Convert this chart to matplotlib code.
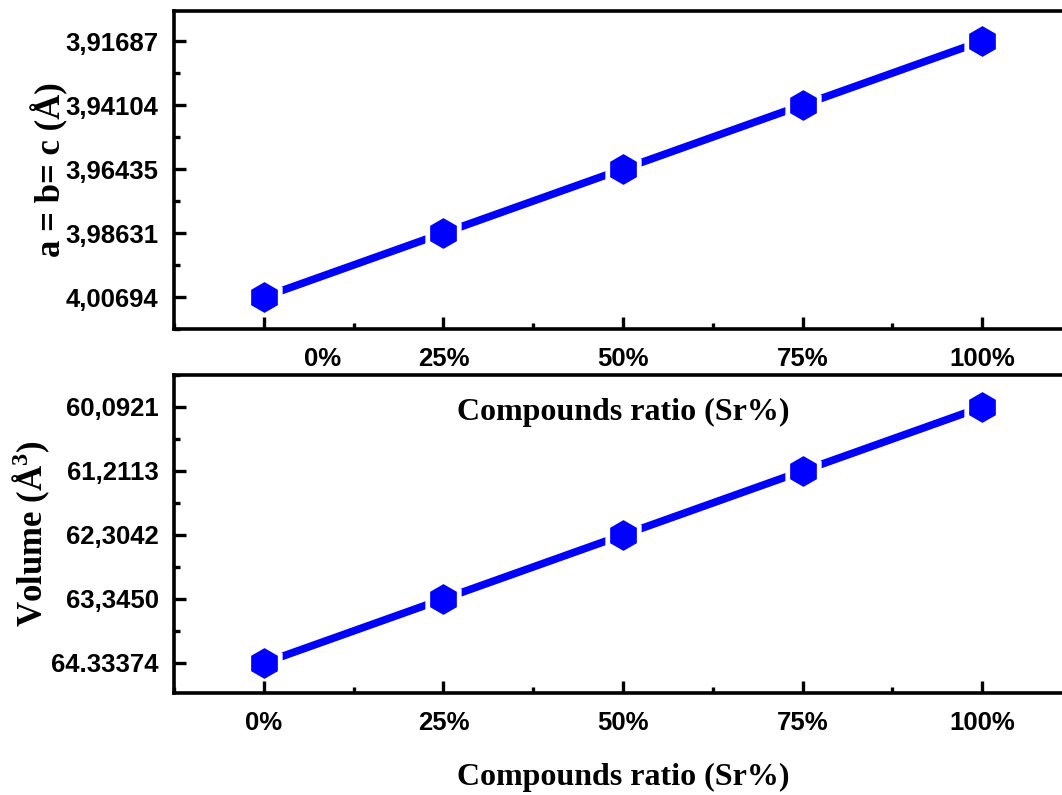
import matplotlib
matplotlib.use("Agg")
import matplotlib.pyplot as plt
from matplotlib.ticker import MultipleLocator
from matplotlib.transforms import ScaledTranslation

# ---- data ----
ratios = ['0%', '25%', '50%', '75%', '100%']
lattice = ['4,00694', '3,98631', '3,96435', '3,94104', '3,91687']
volume = ['64.33374', '63,3450', '62,3042', '61,2113', '60,0921']
xlabel = 'Compounds ratio (Sr%)'
ylabel_top = 'a = b= c (Å)'
ylabel_bot = r'Volume (Å$^{\mathbf{3}}$)'

plt.rcParams['mathtext.fontset'] = 'custom'
plt.rcParams['mathtext.rm'] = 'Liberation Serif'
plt.rcParams['mathtext.bf'] = 'Liberation Serif:bold'

W, H = 1062, 795
fig = plt.figure(figsize=(W / 100, H / 100), dpi=100)

def fx(px):
    return px / W

def fy(py):
    return 1 - py / H

left, right = 174, 1072
ax1 = fig.add_axes([fx(left), fy(329), fx(right - left), fy(11) - fy(329)])
ax2 = fig.add_axes([fx(left), fy(693), fx(right - left), fy(375) - fy(693)])
ax2.patch.set_visible(False)

tick_size = 18.5
label_font = dict(family='Liberation Serif', weight='bold', size=25)

blue = '#0000FF'
for ax, yvals, ylim in [(ax1, lattice, (-0.5, 4.47)),
                        (ax2, volume, (-0.47, 4.5))]:
    ax.plot(ratios, yvals, color=blue, lw=5.5, zorder=1, solid_capstyle='butt')
    ax.plot(ratios, yvals, ls='none', marker='h', ms=29, color='white', zorder=1.5)
    ax.plot(ratios, yvals, ls='none', marker='h', ms=21, color=blue, zorder=1.6)
    ax.set_xlim(-0.5, 4.5)
    ax.set_ylim(*ylim)
    ax.xaxis.set_minor_locator(MultipleLocator(0.5))
    ax.yaxis.set_minor_locator(MultipleLocator(0.5))
    for s in ax.spines.values():
        s.set_linewidth(2.6)
    ax.tick_params(which='both', direction='in', width=2.4, top=False, right=False)
    ax.tick_params(which='major', length=8.5)
    ax.tick_params(which='minor', length=4)
    ax.tick_params(axis='y', which='major', pad=11)
    ax.tick_params(axis='x', which='major', pad=13)
    for lab in ax.get_xticklabels() + ax.get_yticklabels():
        lab.set_fontfamily('Liberation Sans')
        lab.set_fontweight('bold')
        lab.set_fontsize(tick_size)

ax1.set_ylabel(ylabel_top, **label_font, labelpad=-2)
ax2.set_ylabel(ylabel_bot, **label_font, labelpad=-1)
ax1.set_xlabel(xlabel, fontfamily='Liberation Serif', fontweight='bold', fontsize=23,
               labelpad=19.5)
ax2.set_xlabel(xlabel, fontfamily='Liberation Serif', fontweight='bold', fontsize=23,
               labelpad=20)

# the top panel's "0%" label sits shifted to the right in the reference
t0 = ax1.xaxis.get_major_ticks()[0].label1
t0.set_transform(t0.get_transform() + ScaledTranslation(0.59, 0, fig.dpi_scale_trans))

fig.savefig('out.png', dpi=100)
